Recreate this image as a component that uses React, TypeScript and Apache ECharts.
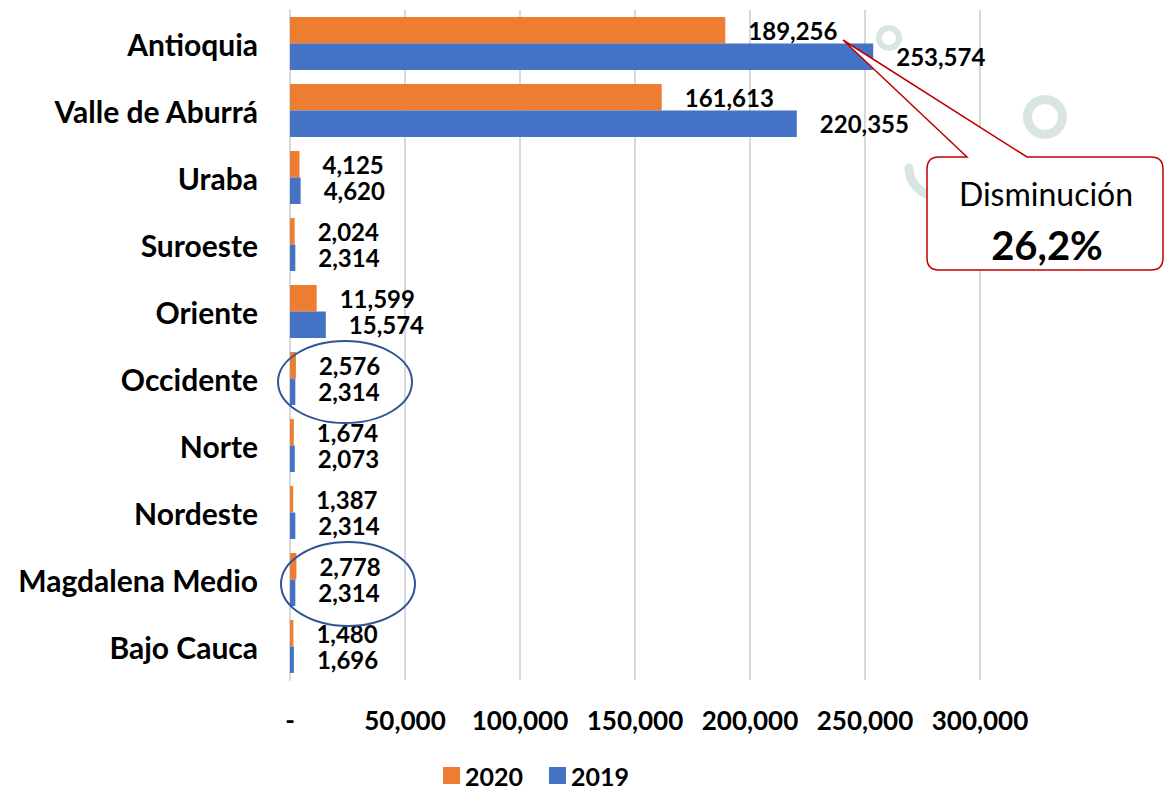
import React, { useEffect, useRef } from "react";
import * as echarts from "echarts";

const categories = [
  "Antioquia",
  "Valle de Aburrá",
  "Uraba",
  "Suroeste",
  "Oriente",
  "Occidente",
  "Norte",
  "Nordeste",
  "Magdalena Medio",
  "Bajo Cauca",
];
const values2020 = [189256, 161613, 4125, 2024, 11599, 2576, 1674, 1387, 2778, 1480];
const values2019 = [253574, 220355, 4620, 2314, 15574, 2314, 2073, 2314, 2314, 1696];
const seriesNames = ["2020", "2019"];
const xTicks = { min: 0, max: 300000, interval: 50000 };
const calloutTitle = "Disminución";
const calloutValue = "26,2%";

const FONT = "Lato, 'Open Sans', sans-serif";
const fmt = (v: number) => (v === 0 ? "-" : v.toLocaleString("en-US"));

export default function App() {
  const ref = useRef<HTMLDivElement>(null);
  useEffect(() => {
    document.body.style.margin = "0";
    if (!ref.current) return;
    const calloutPath =
      "M 939 157 L 967 157 L 843 40 L 1027 157 L 1151 157 Q 1163 157 1163 169 L 1163 258 Q 1163 270 1151 270 L 939 270 Q 927 270 927 258 L 927 169 Q 927 157 939 157 Z";
    echarts.graphic.registerShape("callout", echarts.graphic.extendPath(calloutPath, {}) as any);
    const chart = echarts.init(ref.current, null, { renderer: "svg" });
    const deco = "#d8e5e2";
    const labelStyle = {
      show: true,
      position: "right",
      distance: 23,
      fontFamily: FONT,
      fontWeight: "bold",
      fontSize: 24,
      lineHeight: 20,
      color: "#000",
      formatter: (p: any) => fmt(p.value),
    };
    chart.setOption({
      animation: false,
      backgroundColor: "#fff",
      grid: { left: 290, right: 185, top: 10, bottom: 114, containLabel: false },
      legend: {
        data: seriesNames,
        left: 438,
        top: 758,
        icon: "rect",
        itemWidth: 17,
        itemHeight: 17,
        itemGap: 26,
        textStyle: { fontFamily: FONT, fontWeight: "bold", fontSize: 25, lineHeight: 22, color: "#000" },
      },
      xAxis: {
        type: "value",
        min: xTicks.min,
        max: xTicks.max,
        interval: xTicks.interval,
        axisLine: { show: false },
        axisTick: { show: false },
        splitLine: { show: true, lineStyle: { color: "#d9d9d9", width: 2 } },
        axisLabel: {
          margin: 27,
          fontFamily: FONT,
          fontWeight: "bold",
          fontSize: 26,
          color: "#000",
          formatter: (v: number) => fmt(v),
        },
      },
      yAxis: {
        type: "category",
        data: categories,
        inverse: true,
        axisLine: { show: true, lineStyle: { color: "#d9d9d9", width: 2 } },
        axisTick: { show: false },
        axisLabel: {
          margin: 32,
          fontFamily: FONT,
          fontWeight: "bold",
          fontSize: 30,
          color: "#000",
        },
      },
      series: [
        {
          name: seriesNames[0],
          type: "bar",
          data: values2020,
          itemStyle: { color: "#ED7D31" },
          barGap: "0%",
          barCategoryGap: "21%",
          label: labelStyle,
          z: 3,
        },
        {
          name: seriesNames[1],
          type: "bar",
          data: values2019,
          itemStyle: { color: "#4472C4" },
          barGap: "0%",
          barCategoryGap: "21%",
          label: labelStyle,
          z: 3,
        },
      ],
      graphic: [
        { type: "ring", z: 1, shape: { cx: 889, cy: 38, r: 13, r0: 7 }, style: { fill: deco } },
        { type: "ring", z: 1, shape: { cx: 1045, cy: 117, r: 22, r0: 13 }, style: { fill: deco } },
        {
          type: "arc",
          z: 1,
          shape: { cx: 937, cy: 168, r: 28, startAngle: Math.PI / 2, endAngle: Math.PI, clockwise: true },
          style: { stroke: deco, lineWidth: 9, fill: null, lineCap: "round" },
        },
        {
          type: "arc",
          z: 1,
          shape: { cx: 1131, cy: 212, r: 27, startAngle: Math.PI / 2, endAngle: Math.PI, clockwise: true },
          style: { stroke: deco, lineWidth: 9, fill: null, lineCap: "round" },
        },
        {
          type: "ellipse",
          z: 20,
          shape: { cx: 345, cy: 382, rx: 67, ry: 41 },
          style: { fill: null, stroke: "#2F5597", lineWidth: 2 },
        },
        {
          type: "ellipse",
          z: 20,
          shape: { cx: 348, cy: 584, rx: 67, ry: 42 },
          style: { fill: null, stroke: "#2F5597", lineWidth: 2 },
        },
        {
          type: "callout",
          z: 20,
          x: 0,
          y: 0,
          scaleX: 1,
          scaleY: 1,
          style: { fill: "#fff", stroke: "#C00000", lineWidth: 1.5 },
        },
        {
          type: "text",
          z: 21,
          x: 1046,
          y: 193,
          style: {
            text: calloutTitle,
            fontFamily: FONT,
            fontSize: 32,
            fill: "#000",
            align: "center",
            verticalAlign: "middle",
          },
        },
        {
          type: "text",
          z: 21,
          x: 1047,
          y: 245,
          style: {
            text: calloutValue,
            fontFamily: FONT,
            fontWeight: "bold",
            fontSize: 40,
            fill: "#000",
            align: "center",
            verticalAlign: "middle",
          },
        },
      ],
    });
    return () => chart.dispose();
  }, []);
  return <div ref={ref} style={{ width: 1165, height: 794 }} />;
}
